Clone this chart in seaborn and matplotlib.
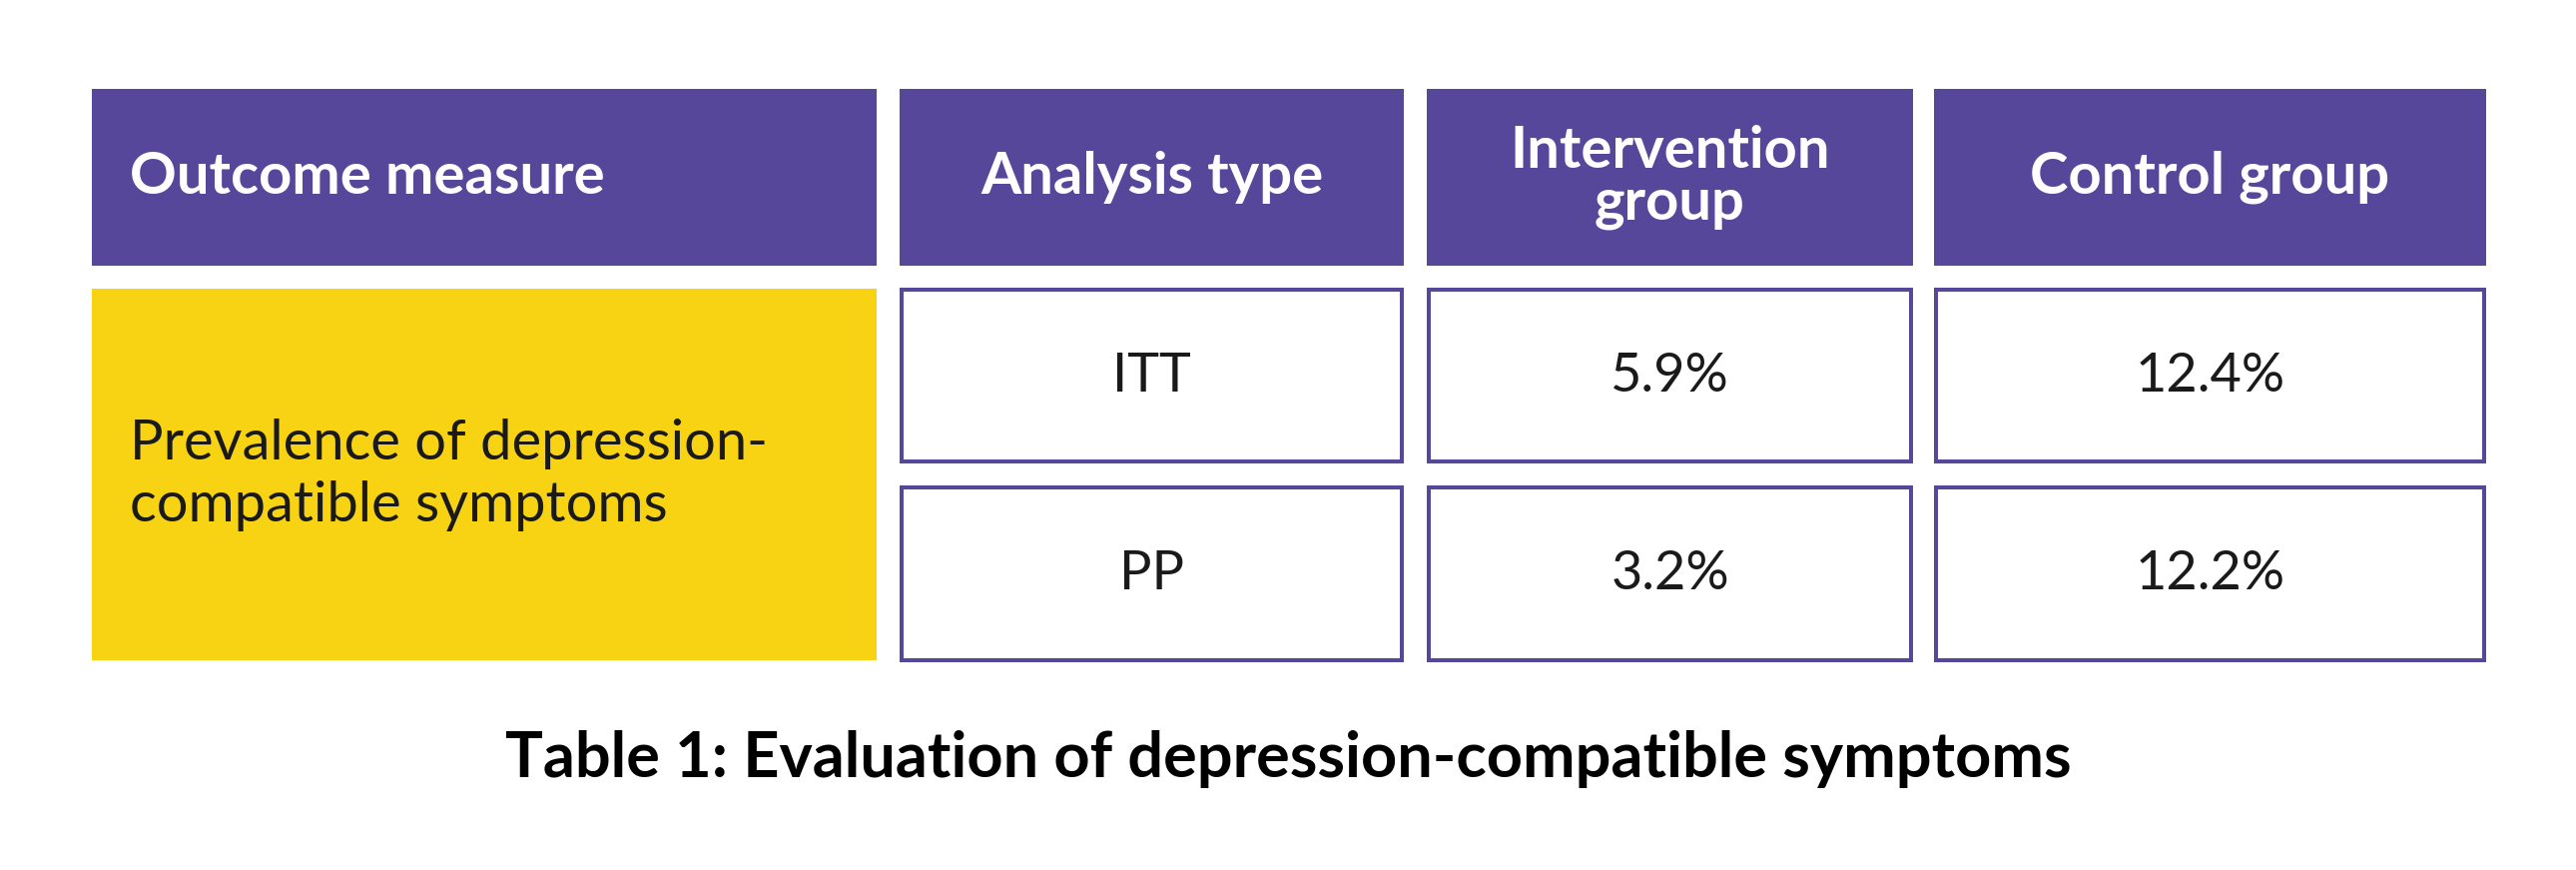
import matplotlib
matplotlib.use('Agg')
import matplotlib.pyplot as plt
import seaborn as sns
from matplotlib.patches import Rectangle

# Table content
headers = ['Outcome measure', 'Analysis type', 'Intervention\ngroup', 'Control group']
outcome = 'Prevalence of depression-\ncompatible symptoms'
analysis_types = ['ITT', 'PP']
intervention = ['5.9%', '3.2%']
control = ['12.4%', '12.2%']
caption = 'Table 1: Evaluation of depression-compatible symptoms'

# Layout in pixels (figure is 2580 x 871)
W, H = 2580, 871
col_edges = [(92, 878), (901, 1406), (1429, 1916), (1937, 2490)]
header_y = (89, 266)
row_y = [(288, 464), (486, 663)]
purple = '#57479A'
yellow = '#F8D313'
text_dark = '#1a1a1a'
border_w = 4

sns.set_theme(style='white')
plt.rcParams['font.family'] = ['Lato', 'DejaVu Sans']

fig = plt.figure(figsize=(W / 100, H / 100), dpi=100)
ax = fig.add_axes([0, 0, 1, 1])
ax.set_xlim(0, W)
ax.set_ylim(H, 0)
ax.axis('off')

px = 0.72  # pixels -> points at 100 dpi

# header row
for i, (x0, x1) in enumerate(col_edges):
    ax.add_patch(Rectangle((x0, header_y[0]), x1 - x0, header_y[1] - header_y[0],
                           facecolor=purple, edgecolor='none'))
    if i == 0:
        ax.text(x0 + 38, sum(header_y) / 2, headers[i], color='white', fontsize=58 * px,
                fontweight='bold', ha='left', va='center')
    else:
        ax.text((x0 + x1) / 2, sum(header_y) / 2, headers[i], color='white', fontsize=58 * px,
                fontweight='bold', ha='center', va='center', linespacing=0.95)

# outcome cell spanning both rows
x0, x1 = col_edges[0]
ax.add_patch(Rectangle((x0, row_y[0][0] + 1), x1 - x0, row_y[1][1] - row_y[0][0] - 3,
                       facecolor=yellow, edgecolor='none'))
ax.text(x0 + 38, (row_y[0][0] + row_y[1][1]) / 2, outcome, color=text_dark,
        fontsize=56 * px, fontweight='normal', ha='left', va='center', linespacing=1.25)

# value cells
columns = [analysis_types, intervention, control]
for c, vals in enumerate(columns, start=1):
    x0, x1 = col_edges[c]
    for r, val in enumerate(vals):
        y0, y1 = row_y[r]
        ax.add_patch(Rectangle((x0 + border_w / 2, y0 + border_w / 2),
                               x1 - x0 - border_w, y1 - y0 - border_w,
                               facecolor='white', edgecolor=purple, linewidth=border_w * px))
        ax.text((x0 + x1) / 2, (y0 + y1) / 2, val, color=text_dark, fontsize=54 * px,
                fontweight='normal', ha='center', va='center')

# caption
ax.text(W / 2, 760, caption, color='black', fontsize=63 * px, fontweight='bold',
        ha='center', va='center')

fig.savefig('out.png', dpi=100, facecolor='white')
